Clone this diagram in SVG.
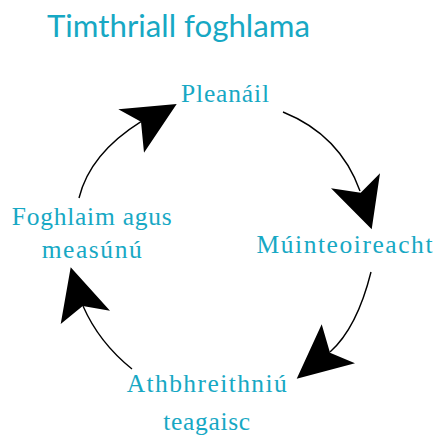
<svg xmlns="http://www.w3.org/2000/svg" width="435" height="439" viewBox="0 0 435 439">
<style>
.title{font-family:Lato,"Open Sans",sans-serif;font-size:30px;fill:#17a8c4}
.lbl{font-family:"Liberation Serif",serif;font-size:25.5px;fill:#17a8c4;text-anchor:middle}
.con path{fill:none;stroke:#000;stroke-width:1.4}
.con polygon{fill:#000;stroke:none}
</style>
<rect width="435" height="439" fill="#fff"/>
<text class="title" x="47" y="37" textLength="263" lengthAdjust="spacingAndGlyphs">Timthriall foghlama</text>
<g class="con">
<path d="M283,112 Q340,135 360,191"/>
<polygon points="371.7,229.3 331,188.3 360.7,192.7 380,173.3"/>
<path d="M371,272 Q357,328 330,352"/>
<polygon points="296.7,378.7 321.7,324.3 330,352.7 355,363.3"/>
<path d="M132,369 Q99,342.5 83,306"/>
<polygon points="70.7,267.3 60.7,324 82.7,306 110,310.7"/>
<path d="M79,198 Q90,153.6 141,121.7"/>
<polygon points="176.7,104 118.3,109.3 141,121.7 144,152.7"/>
</g>
<g id="n1"><text class="lbl" x="225" y="102" textLength="88">Pleanáil</text></g>
<g id="n2"><text class="lbl" x="344.5" y="253" textLength="176">Múinteoireacht</text></g>
<g id="n3"><text class="lbl" x="206.7" y="391.5" textLength="160">Athbhreithniú</text><text class="lbl" x="206.7" y="430" textLength="87">teagaisc</text></g>
<g id="n4"><text class="lbl" x="91.7" y="225" textLength="160">Foghlaim agus</text><text class="lbl" x="91.7" y="257.5" textLength="100">measúnú</text></g>
</svg>
